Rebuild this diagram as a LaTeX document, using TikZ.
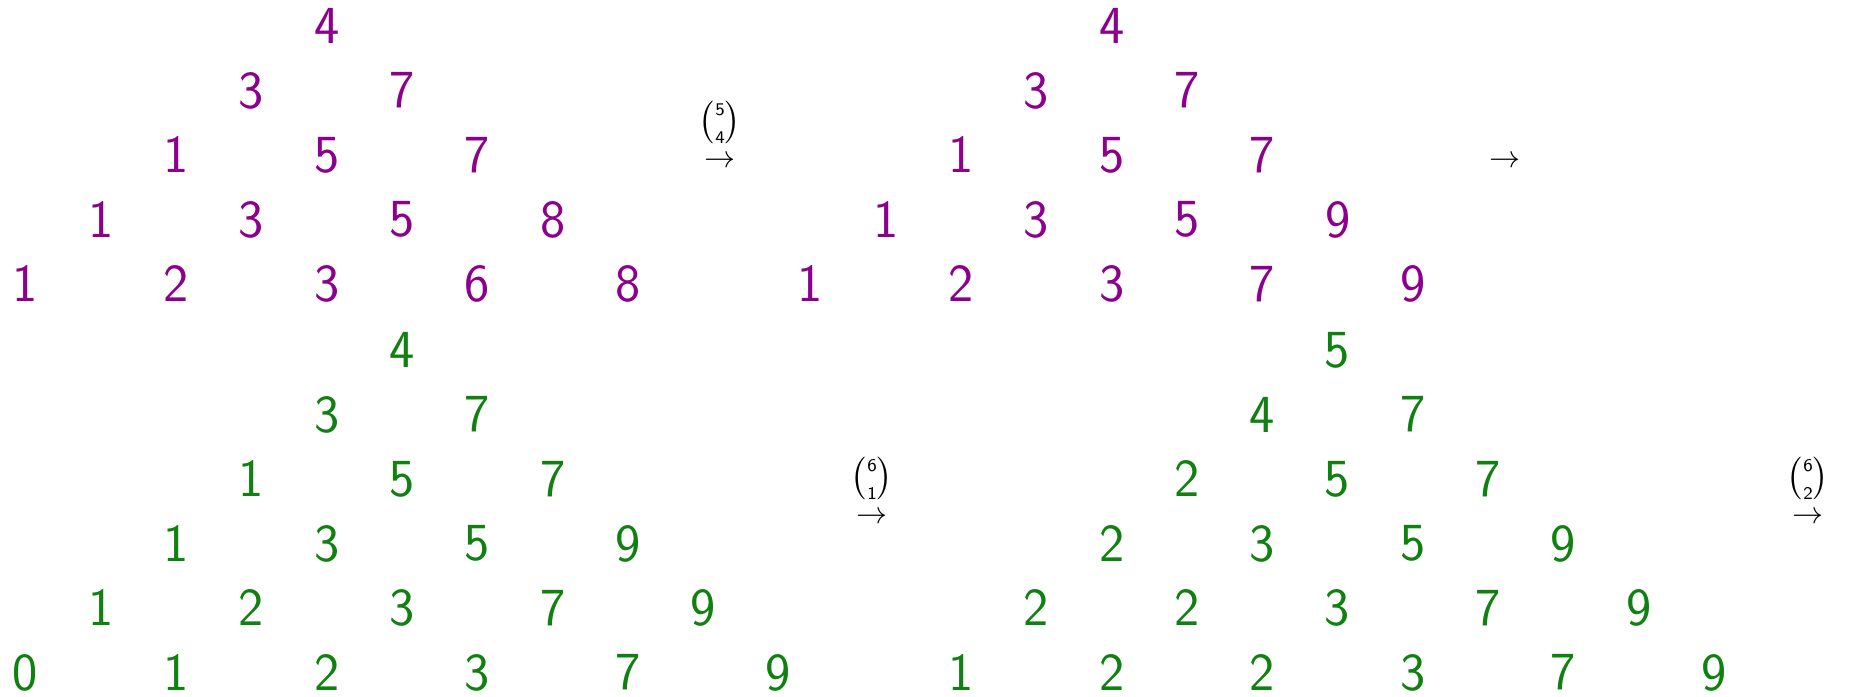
\documentclass[tikz,border=0pt]{standalone}
\usepackage{amsmath}
\usepackage{graphicx}
\definecolor{tpurple}{RGB}{140,0,140}
\definecolor{tgreen}{RGB}{16,128,16}
\tikzset{
  num/.style={font=\sffamily\LARGE, inner sep=0pt, anchor=center},
  arr/.style={inner sep=0pt, anchor=base},
  lab/.style={inner sep=0pt, anchor=center}
}
\newcommand\drawtri[6]{%
  \foreach \rowvals [count=\i] in {#6} {
    \foreach \v [count=\j] in \rowvals {
      \node[num, text=#5] (#1-\i-\j) at ({#2+75.3*(#4-\i+2*(\j-1))}, {#3+64.5*(\i-1)}) {\v};
    }
  }%
}
\newcommand\mybin[2]{\scalebox{1.15}{$\genfrac{(}{)}{0pt}{}{\scriptscriptstyle\mathsf{#1}}{\scriptscriptstyle\mathsf{#2}}$}}
\begin{document}
\begin{tikzpicture}[x=0.3226pt,y=-0.3226pt]
\useasboundingbox (0,0) rectangle (1853,697);
\drawtri{pa}{25.5}{26}{5}{tpurple}{{4},{3,7},{1,5,7},{1,3,5,8},{1,2,3,6,8}}
\drawtri{pb}{810.5}{26}{5}{tpurple}{{4},{3,7},{1,5,7},{1,3,5,9},{1,2,3,7,9}}
\drawtri{ga}{25.5}{350}{6}{tgreen}{{4},{3,7},{1,5,7},{1,3,5,9},{1,2,3,7,9},{0,1,2,3,7,9}}
\drawtri{gb}{961}{350}{6}{tgreen}{{5},{4,7},{2,5,7},{2,3,5,9},{2,2,3,7,9},{1,2,2,3,7,9}}
\node[arr] (a1) at (720,168) {$\to$};
\node[lab] (b1) at (720,122) {$\mybin{5}{4}$};
\node[arr] (a2) at (1505,168) {$\to$};
\node[arr] (a3) at (872,524) {$\to$};
\node[lab] (b3) at (872,478) {$\mybin{6}{1}$};
\node[arr] (a4) at (1808,524) {$\to$};
\node[lab] (b4) at (1808,478) {$\mybin{6}{2}$};
\end{tikzpicture}
\end{document}
